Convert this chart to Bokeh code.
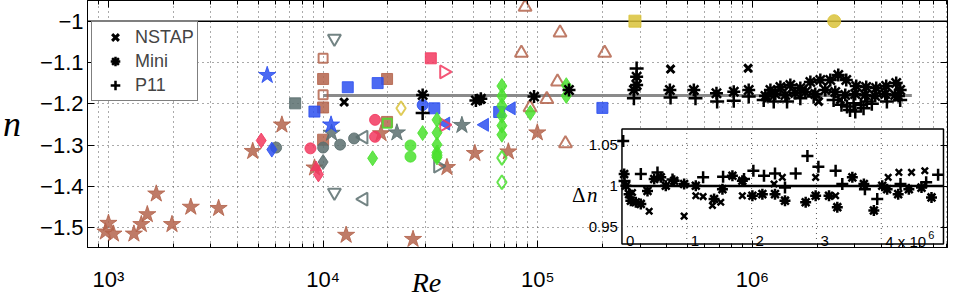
import math
from bokeh.plotting import figure
from bokeh.models import (Range1d, LinearScale, LogAxis, LinearAxis, FixedTicker, Axis,
                          Legend, LegendItem)
from bokeh.core.properties import value
from bokeh.embed import file_html
from bokeh.resources import INLINE

# ---------------- data ----------------
BROWN_STAR_RE = [1000, 968, 1055, 1314, 1423, 1517, 1670, 1977, 2419, 3260, 4700, 6427, 9120,
                 12800, 18620, 26240, 37760, 50940, 72950, 99500]
BROWN_STAR_N = [-1.489, -1.510, -1.515, -1.515, -1.492, -1.468, -1.418, -1.492, -1.450, -1.453,
                -1.315, -1.251, -1.355, -1.518, -1.272, -1.528, -1.354, -1.320, -1.316, -1.270]
BROWN_SQ_RE = [10000, 10000, 10000, 19860, 19860]
BROWN_SQ_N = [-1.140, -1.209, -1.287, -1.140, -1.244]
BROWN_OSQ_RE = [10000, 10000]
BROWN_OSQ_N = [-1.090, -1.178]
BROWN_TRI_RE = [87300, 127000, 83900, 205000, 123600, 110200, 134600, 92000]
BROWN_TRI_N = [-0.966, -1.028, -1.077, -1.077, -1.147, -1.189, -1.296, -1.209]

BLUE_SQ_RE = [9111, 13030, 17950, 32970, 66100, 200000]
BLUE_SQ_N = [-1.219, -1.160, -1.150, -1.211, -1.220, -1.210]
BLUE_STAR_RE = [5490, 10890]
BLUE_STAR_N = [-1.131, -1.251]
BLUE_DIA_RE = [5770]
BLUE_DIA_N = [-1.311]
BLUE_CIRC_RE = [29090]
BLUE_CIRC_N = [-1.203]
BLUE_LTRI_RE = [37330, 56600, 75400]
BLUE_LTRI_N = [-1.248, -1.251, -1.211]

SLATE_SQ_RE = [7410]
SLATE_SQ_N = [-1.199]
SLATE_CIRC_RE = [6040, 10000, 12000, 13940]
SLATE_CIRC_N = [-1.306, -1.306, -1.299, -1.284]
SLATE_DIA_RE = [10000]
SLATE_DIA_N = [-1.341]
SLATE_STAR_RE = [10950, 22070, 44320]
SLATE_STAR_N = [-1.271, -1.270, -1.252]
SLATE_DTRI_RE = [11290, 11290]
SLATE_DTRI_N = [-1.042, -1.415]
SLATE_LTRI_RE = [15450, 15450]
SLATE_LTRI_N = [-1.281, -1.431]
SLATE_RTRI_RE = [34270]
SLATE_RTRI_N = [-1.351]

PINK_DIA_RE = [5148, 9510]
PINK_DIA_N = [-1.289, -1.371]
PINK_TRI_RE = [9270]
PINK_TRI_N = [-1.354]
PINK_CIRC_RE = [8730, 17460, 17460]
PINK_CIRC_N = [-1.308, -1.239, -1.280]
PINK_SQ_RE = [31760]
PINK_SQ_N = [-1.090]
PINK_RTRI_RE = [36560, 36560]
PINK_RTRI_N = [-1.123, -1.251]

GREEN_DIA_RE = [17010, 29090, 33920, 33920, 33920, 33920, 33920, 68060, 68060, 68060, 68060,
                68060, 68060, 92300, 135800, 135800]
GREEN_DIA_N = [-1.332, -1.271, -1.239, -1.270, -1.299, -1.318, -1.330, -1.157, -1.181, -1.205,
               -1.229, -1.253, -1.275, -1.222, -1.155, -1.181]
GREEN_CIRC_RE = [25530, 25530]
GREEN_CIRC_N = [-1.301, -1.328]
GREEN_OSQ_RE = [19900]
GREEN_OSQ_N = [-1.247]
GREEN_ODIA_RE = [33920, 68060, 68060]
GREEN_ODIA_N = [-1.325, -1.331, -1.390]

GOLD_SQ_RE = [283600]
GOLD_SQ_N = [-1.0]
GOLD_CIRC_RE = [2404000]
GOLD_CIRC_N = [-1.0]
GOLD_ODIA_RE = [23070]
GOLD_ODIA_N = [-1.211]

NSTAP_RE = [12530, 54300, 415600, 955000, 1171000, 2035000, 2567000]
NSTAP_N = [-1.196, -1.190, -1.116, -1.114, -1.1827, -1.1947, -1.1906]
MINI_RE = [29090, 54300, 51500, 96100, 139800,
           288800, 288800, 280500, 412500, 533400, 680000, 818800, 961000,
           1213000, 1350000, 1502000, 1672000, 1862000, 2072000, 2306000, 2512000, 2737000,
           3046000, 3390000, 3774000, 4201000, 4676000, 4880000,
           1150000, 1279000, 1424000, 1585000, 1764000, 1963000, 2185000, 2432000, 2708000,
           3013000, 3354000, 3734000, 4156000, 4626000, 4790000]
MINI_N = [-1.1786, -1.188, -1.192, -1.1827, -1.1666,
          -1.1346, -1.1546, -1.1666, -1.1666, -1.1666, -1.1745, -1.1707, -1.1666,
          -1.1666, -1.1594, -1.1546, -1.1618, -1.1474, -1.1425, -1.1425, -1.1305, -1.1425,
          -1.157, -1.1594, -1.1618, -1.157, -1.1498, -1.1666,
          -1.181, -1.1762, -1.1786, -1.1738, -1.1714, -1.1762, -1.1666, -1.1714, -1.1786,
          -1.1762, -1.1786, -1.181, -1.1762, -1.1786, -1.181]
P11_RE = [29090, 288800, 280500, 415600, 543000, 685000, 818800, 961000,
          1129000, 1257000, 1450000, 1672000, 1929000, 2389000, 2600000, 2758000, 2850000,
          2960000, 3014000, 3200000, 3294000, 3416000, 3600000, 4232000, 4880000]
P11_N = [-1.2226, -1.1144, -1.1865, -1.1851, -1.1865, -1.1947, -1.193, -1.1827,
         -1.1906, -1.1947, -1.1947, -1.1865, -1.1827, -1.1906, -1.2026, -1.2067, -1.215,
         -1.1986, -1.2188, -1.203, -1.2106, -1.1947, -1.200, -1.1947, -1.1906]

FIT_RE = [1.0e4, 5.53e6]
FIT_N = [-1.18, -1.18]
REF_N = -1.0

# inset: delta n versus Re (linear)
IN_NSTAP_RE = [0.163e6, 0.42e6, 0.959e6, 1.139e6, 1.252e6, 1.396e6, 1.524e6, 1.857e6, 2.346e6,
               2.474e6, 2.988e6, 3.296e6, 4.107e6, 4.272e6, 4.467e6, 4.672e6]
IN_NSTAP_DN = [0.992, 0.969, 0.963, 0.988, 0.987, 0.976, 0.980, 0.988, 1.0024,
               1.0106, 1.0106, 0.988, 1.0106, 1.0167, 1.0167, 1.0187]
IN_MINI_RE = [0.034e6, 0.06e6, 0.11e6, 0.137e6, 0.214e6, 0.291e6, 0.394e6, 0.497e6, 0.599e6,
              0.676e6, 0.805e6, 0.959e6, 1.139e6, 1.421e6, 1.55e6, 1.704e6, 1.857e6, 2.012e6,
              2.166e6, 2.361e6, 2.515e6, 2.834e6, 2.988e6, 3.194e6, 3.322e6, 3.554e6, 3.732e6,
              3.886e6, 4.015e6, 4.091e6, 4.261e6, 4.426e6, 4.621e6, 4.775e6]
IN_MINI_DN = [1.0146, 1.0004, 0.990, 0.982, 0.980, 0.978, 0.994, 1.0085, 1.0106,
              1.0004, 1.0065, 1.0024, 1.0004, 0.984, 0.996, 1.0126, 1.0065, 0.988,
              0.990, 0.990, 0.982, 0.980, 0.988, 0.988, 0.974, 1.0106, 1.0024,
              0.970, 1.0004, 0.996, 0.990, 0.996, 0.998, 0.986]
IN_P11_RE = [0.019e6, 0.04e6, 0.291e6, 0.548e6, 0.78e6, 1.252e6, 1.56e6, 1.883e6, 2.027e6,
             2.191e6, 2.361e6, 2.515e6, 2.68e6, 2.861e6, 3.03e6, 3.296e6, 3.399e6, 3.748e6,
             3.938e6, 4.297e6, 4.693e6, 4.877e6]
IN_P11_DN = [1.0553, 1.006, 1.0146, 1.0167, 1.008, 1.0106, 1.0114, 1.0085, 1.0187,
             1.0126, 1.0154, 0.998, 1.0154, 1.037, 1.0236, 1.0187, 1.0024, 0.996,
             0.984, 1.0024, 1.0045, 1.0138]

X_TICKS = [1e3, 1e4, 1e5, 1e6]
X_TICK_LABELS = ["10³", "10⁴", "10⁵", "10⁶"]
X_MINOR = [m * 10 ** k for k in range(2, 7) for m in range(2, 10)]
Y_TICKS = [-1.5, -1.4, -1.3, -1.2, -1.1, -1.0]
Y_TICK_LABELS = ["−1.5", "−1.4", "−1.3", "−1.2", "−1.1", "−1"]
INSET_XTICKS = [0, 1e6, 2e6, 3e6, 4e6]
INSET_XTICK_LABELS = ["0", "1", "2", "3", "4 x 10"]
INSET_YTICKS = [0.95, 1.0, 1.05]
INSET_YTICK_LABELS = ["0.95", "1", "1.05"]
LEGEND_LABELS = ["NSTAP", "Mini", "P11"]
X_TITLE = "Re"
Y_TITLE = "n"

# ---------------- ranges / styles ----------------
X_START, X_END = 798.7, 8.107e6
Y_START, Y_END = -1.548, -0.950
IN_X_START, IN_X_END = -8.245e6, 5.022e6
IN_Y_START, IN_Y_END = 0.9244, 1.228
IN_LEFT, IN_RIGHT, IN_BOTTOM, IN_TOP = 0.0, 4.96e6, 0.9287, 1.0701

BROWN = "#B4644C"
BLUE = "#2D50F0"
SLATE = "#5B6F6F"
PINK = "#F2385F"
GREEN = "#4AE02E"
GOLD = "#D9C23A"
GRID = "#555555"
FONT = "Liberation Sans"
SERIF = "Liberation Serif"

p = figure(width=955, height=300, x_axis_type="log",
           x_range=Range1d(X_START, X_END), y_range=Range1d(Y_START, Y_END),
           output_backend="svg", toolbar_location=None,
           min_border_left=86, min_border_right=8, min_border_top=0, min_border_bottom=51)
p.extra_x_ranges = {"inset": Range1d(IN_X_START, IN_X_END)}
p.extra_x_scales = {"inset": LinearScale()}
p.extra_y_ranges = {"inset": Range1d(IN_Y_START, IN_Y_END)}
p.outline_line_color = "black"
p.outline_line_width = 1
p.background_fill_color = "white"
p.border_fill_color = "white"

xt = FixedTicker(ticks=X_TICKS, minor_ticks=X_MINOR)
yt = FixedTicker(ticks=Y_TICKS)


def style_axis(ax, labels):
    ax.axis_line_color = "black"
    ax.major_tick_line_color = "black"
    ax.minor_tick_line_color = "black"
    ax.major_tick_in = 7
    ax.major_tick_out = 0
    ax.minor_tick_in = 4
    ax.minor_tick_out = 0
    if labels:
        ax.major_label_text_font = FONT
        ax.major_label_text_font_size = "22px"
        ax.major_label_text_color = "black"
    else:
        ax.major_label_text_font_size = "1px"
        ax.major_label_text_alpha = 0
        ax.major_label_standoff = 0


HAS_ORIENT = "axis_label_orientation" in Axis.properties()

bx = p.xaxis[0]
bx.ticker = xt
bx.major_label_overrides = dict(zip(X_TICKS, X_TICK_LABELS))
style_axis(bx, True)
bx.major_label_standoff = 19
# axis title, centred a little left of the frame centre as in the reference
bx.axis_label = X_TITLE + "\u2003" * 6 + "\u2002"
bx.axis_label_standoff = -28
bx.axis_label_text_font = SERIF
bx.axis_label_text_font_style = "italic"
bx.axis_label_text_font_size = "28px"
bx.axis_label_text_color = "black"

ly = p.yaxis[0]
ly.ticker = yt
ly.major_label_overrides = dict(zip(Y_TICKS, Y_TICK_LABELS))
style_axis(ly, True)
ly.major_label_standoff = 4
ly.minor_tick_line_color = None
ly.axis_label = Y_TITLE
if HAS_ORIENT:
    ly.axis_label_orientation = "horizontal"
ly.axis_label_standoff = 16
ly.axis_label_text_font = SERIF
ly.axis_label_text_font_style = "italic"
ly.axis_label_text_font_size = "36px"
ly.axis_label_text_color = "black"

tx = LogAxis(ticker=xt)
style_axis(tx, False)
p.add_layout(tx, "above")
ry = LinearAxis(ticker=yt)
style_axis(ry, False)
ry.minor_tick_line_color = None
p.add_layout(ry, "right")

g = p.xgrid[0]
g.ticker = xt
g.grid_line_color = GRID
g.grid_line_dash = "1 4"
g.minor_grid_line_color = GRID
g.minor_grid_line_dash = "1 4"
p.ygrid[0].ticker = yt
p.ygrid[0].grid_line_color = GRID
p.ygrid[0].grid_line_dash = "1 4"

# reference lines
p.line([X_START, X_END], [REF_N, REF_N], line_color="black", line_width=1.5)
p.line(FIT_RE, FIT_N, line_color="#8a8a8a", line_width=3)

A = 0.85


def filled(re, n, marker, color, size, angle=0.0):
    p.scatter(re, n, marker=marker, size=size, angle=angle, fill_color=color,
              line_color=color, fill_alpha=A, line_alpha=A, line_width=1)


def hollow(re, n, marker, color, size, angle=0.0):
    p.scatter(re, n, marker=marker, size=size, angle=angle, fill_color=None,
              line_color=color, line_alpha=A, line_width=2)


LEFT = math.pi / 2
RIGHT = -math.pi / 2

filled(BROWN_STAR_RE, BROWN_STAR_N, "star", BROWN, 18)
filled(BROWN_SQ_RE, BROWN_SQ_N, "square", BROWN, 11)
hollow(BROWN_OSQ_RE, BROWN_OSQ_N, "square", BROWN, 9)
hollow(BROWN_TRI_RE, BROWN_TRI_N, "triangle", BROWN, 13)
hollow(GREEN_OSQ_RE, GREEN_OSQ_N, "square", GREEN, 9)
filled(SLATE_SQ_RE, SLATE_SQ_N, "square", SLATE, 11)
filled(SLATE_CIRC_RE, SLATE_CIRC_N, "circle", SLATE, 11)
filled(SLATE_DIA_RE, SLATE_DIA_N, "diamond", SLATE, 15)
filled(SLATE_STAR_RE, SLATE_STAR_N, "star", SLATE, 18)
hollow(SLATE_DTRI_RE, SLATE_DTRI_N, "inverted_triangle", SLATE, 13)
hollow(SLATE_LTRI_RE, SLATE_LTRI_N, "triangle", SLATE, 13, LEFT)
hollow(SLATE_RTRI_RE, SLATE_RTRI_N, "triangle", SLATE, 13, RIGHT)
filled(BLUE_SQ_RE, BLUE_SQ_N, "square", BLUE, 11)
filled(BLUE_STAR_RE, BLUE_STAR_N, "star", BLUE, 18)
filled(BLUE_DIA_RE, BLUE_DIA_N, "diamond", BLUE, 15)
filled(BLUE_CIRC_RE, BLUE_CIRC_N, "circle", BLUE, 11)
filled(BLUE_LTRI_RE, BLUE_LTRI_N, "triangle", BLUE, 13, LEFT)
filled(PINK_DIA_RE, PINK_DIA_N, "diamond", PINK, 15)
filled(PINK_TRI_RE, PINK_TRI_N, "triangle", PINK, 11)
filled(PINK_CIRC_RE, PINK_CIRC_N, "circle", PINK, 11)
filled(PINK_SQ_RE, PINK_SQ_N, "square", PINK, 11)
hollow(PINK_RTRI_RE, PINK_RTRI_N, "triangle", PINK, 13, RIGHT)
filled(GREEN_DIA_RE, GREEN_DIA_N, "diamond", GREEN, 15)
filled(GREEN_CIRC_RE, GREEN_CIRC_N, "circle", GREEN, 11)
hollow(GREEN_ODIA_RE, GREEN_ODIA_N, "diamond", GREEN, 14)
filled(GOLD_SQ_RE, GOLD_SQ_N, "square", GOLD, 12)
filled(GOLD_CIRC_RE, GOLD_CIRC_N, "circle", GOLD, 13)
hollow(GOLD_ODIA_RE, GOLD_ODIA_N, "diamond", GOLD, 14)

r_mini = p.scatter(MINI_RE, MINI_N, marker="asterisk", size=13, line_color="black", line_width=2.5)
r_p11 = p.scatter(P11_RE, P11_N, marker="cross", size=14, line_color="black", line_width=2.5)
r_nstap = p.scatter(NSTAP_RE, NSTAP_N, marker="x", size=11, line_color="black", line_width=3)

# ---------------- inset ----------------
IN = dict(x_range_name="inset", y_range_name="inset")
p.quad(left=[IN_LEFT], right=[IN_RIGHT], bottom=[IN_BOTTOM], top=[IN_TOP],
       fill_color="white", line_color="black", line_width=1.5, **IN)
p.segment(x0=INSET_XTICKS[1:], y0=[IN_BOTTOM] * 4, x1=INSET_XTICKS[1:], y1=[IN_TOP] * 4,
          line_color=GRID, line_dash="1 4", **IN)
p.segment(x0=[IN_LEFT] * 2, y0=[INSET_YTICKS[0], INSET_YTICKS[2]], x1=[IN_RIGHT] * 2,
          y1=[INSET_YTICKS[0], INSET_YTICKS[2]], line_color=GRID, line_dash="1 4", **IN)
p.line([IN_LEFT, IN_RIGHT], [1.0, 1.0], line_color="black", line_width=2.5, **IN)
p.scatter(IN_MINI_RE, IN_MINI_DN, marker="asterisk", size=11, line_color="black", line_width=2.5, **IN)
p.scatter(IN_P11_RE, IN_P11_DN, marker="cross", size=12, line_color="black", line_width=2.5, **IN)
p.scatter(IN_NSTAP_RE, IN_NSTAP_DN, marker="x", size=9, line_color="black", line_width=2.5, **IN)

p.text(x=INSET_XTICKS, y=[IN_BOTTOM] * 5, text=INSET_XTICK_LABELS, x_offset=4, y_offset=-3,
       text_font=value(FONT), text_font_size="15px", text_align="left",
       text_baseline="alphabetic", text_color="black", **IN)
p.text(x=[INSET_XTICKS[-1]], y=[IN_BOTTOM], text=["6"], x_offset=47, y_offset=-9,
       text_font=value(FONT), text_font_size="11px", text_align="left",
       text_baseline="alphabetic", text_color="black", **IN)
p.text(x=[IN_LEFT] * 3, y=INSET_YTICKS, text=INSET_YTICK_LABELS, x_offset=-4,
       text_font=value(FONT), text_font_size="15px", text_align="right",
       text_baseline="middle", text_color="black", **IN)
p.text(x=[IN_LEFT], y=[1.0], text=["Δ"], x_offset=-50, y_offset=9,
       text_font=value(SERIF), text_font_size="21px", text_align="left",
       text_baseline="alphabetic", text_color="black", **IN)
p.text(x=[IN_LEFT], y=[1.0], text=["n"], x_offset=-35, y_offset=9,
       text_font=value(SERIF), text_font_style="italic", text_font_size="21px",
       text_align="left", text_baseline="alphabetic", text_color="black", **IN)

# ---------------- legend ----------------
legend = Legend(items=[LegendItem(label=LEGEND_LABELS[0], renderers=[r_nstap]),
                       LegendItem(label=LEGEND_LABELS[1], renderers=[r_mini]),
                       LegendItem(label=LEGEND_LABELS[2], renderers=[r_p11])],
                location=(4, 146), orientation="vertical",
                border_line_color="black", border_line_width=1,
                background_fill_color="white", background_fill_alpha=1.0,
                label_text_font=FONT, label_text_font_size="18px",
                glyph_width=40, glyph_height=24, label_height=24,
                label_standoff=0, padding=3, spacing=0, margin=0)
p.add_layout(legend)

open("out.html", "w").write(file_html(p, INLINE))
